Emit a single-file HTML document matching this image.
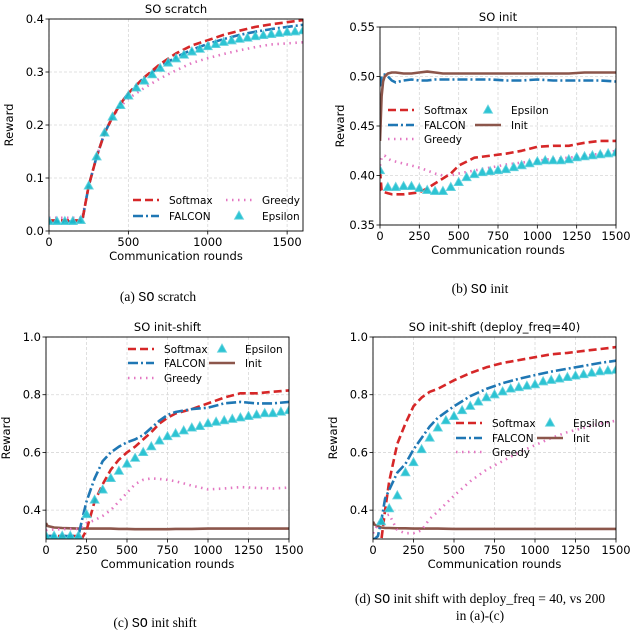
<!DOCTYPE html>
<html><head><meta charset="utf-8"><style>
body{margin:0;background:#fff;width:640px;height:633px;overflow:hidden}
svg{display:block}
text{font-family:"DejaVu Sans","Liberation Sans",sans-serif}
.cap{font-family:"Liberation Serif",serif;font-size:13.5px}
.mono{font-family:"Liberation Mono",monospace}
</style></head><body>
<svg id="fig" width="640" height="633"></svg>
<script>
// ---- Panel (a) data
const aX=[0,50,100,150,200,210,250,300,350,400,450,500,600,700,800,900,1000,1100,1200,1300,1400,1500,1600];
const aSoft=[0.02,0.02,0.02,0.02,0.02,0.02,0.085,0.14,0.185,0.215,0.24,0.26,0.29,0.315,0.335,0.35,0.36,0.37,0.378,0.385,0.39,0.394,0.398];
const aFal=[0.018,0.018,0.018,0.018,0.018,0.02,0.085,0.14,0.185,0.215,0.24,0.26,0.29,0.31,0.328,0.342,0.353,0.362,0.37,0.376,0.381,0.385,0.389];
const aGre=[0.025,0.025,0.025,0.025,0.025,0.025,0.085,0.14,0.185,0.215,0.235,0.25,0.27,0.288,0.303,0.317,0.326,0.334,0.341,0.347,0.352,0.354,0.356];
const aEx=[0,50,100,150,200,250,300,350,400,450,500,550,600,650,700,750,800,850,900,950,1000,1050,1100,1150,1200,1250,1300,1350,1400,1450,1500,1550,1600];
const aEps=[0.018,0.018,0.018,0.018,0.02,0.085,0.14,0.185,0.215,0.237,0.255,0.27,0.283,0.295,0.307,0.317,0.325,0.332,0.338,0.343,0.348,0.352,0.356,0.359,0.362,0.364,0.367,0.369,0.371,0.373,0.375,0.376,0.378];
// ---- Panel (b) data
const bX=[0,10,20,30,50,75,100,150,200,250,300,350,400,450,500,600,700,800,900,1000,1100,1200,1300,1400,1500];
const bInit=[0.435,0.48,0.495,0.5,0.503,0.504,0.504,0.503,0.503,0.504,0.505,0.504,0.503,0.503,0.503,0.503,0.503,0.503,0.503,0.503,0.503,0.503,0.504,0.504,0.504];
const bFal=[0.49,0.5,0.502,0.502,0.5,0.496,0.494,0.496,0.497,0.496,0.496,0.497,0.497,0.497,0.497,0.497,0.497,0.496,0.496,0.497,0.496,0.496,0.496,0.496,0.495];
const bSoft=[0.405,0.385,0.383,0.383,0.382,0.381,0.381,0.381,0.382,0.383,0.387,0.392,0.397,0.402,0.41,0.418,0.42,0.422,0.425,0.429,0.43,0.43,0.433,0.435,0.435];
const bGre=[0.41,0.418,0.42,0.42,0.417,0.415,0.414,0.412,0.41,0.408,0.405,0.402,0.4,0.4,0.402,0.405,0.408,0.411,0.413,0.415,0.417,0.418,0.42,0.422,0.425];
const bEx=[0,50,100,150,200,250,300,350,400,450,500,550,600,650,700,750,800,850,900,950,1000,1050,1100,1150,1200,1250,1300,1350,1400,1450,1500];
const bEps=[0.405,0.388,0.388,0.389,0.389,0.387,0.385,0.384,0.384,0.388,0.393,0.398,0.401,0.403,0.404,0.405,0.406,0.408,0.41,0.412,0.414,0.415,0.415,0.415,0.416,0.418,0.419,0.42,0.421,0.422,0.423];
// ---- Panel (c) data
const cX=[0,10,50,100,150,200,220,250,300,350,400,450,500,550,600,650,700,750,800,900,1000,1100,1200,1300,1400,1500];
const cInit=[0.355,0.345,0.34,0.338,0.337,0.336,0.336,0.336,0.336,0.336,0.336,0.335,0.335,0.334,0.334,0.334,0.334,0.334,0.335,0.335,0.336,0.336,0.336,0.336,0.336,0.336];
const cSoft=[0.31,0.31,0.31,0.31,0.31,0.31,0.3,0.33,0.43,0.49,0.54,0.575,0.6,0.62,0.645,0.67,0.7,0.72,0.735,0.75,0.77,0.79,0.805,0.805,0.81,0.815];
const cFal=[0.31,0.31,0.31,0.31,0.31,0.31,0.36,0.43,0.51,0.57,0.6,0.62,0.635,0.645,0.66,0.685,0.71,0.73,0.74,0.75,0.755,0.77,0.775,0.77,0.77,0.775];
const cGre=[0.33,0.332,0.333,0.334,0.335,0.335,0.34,0.355,0.365,0.38,0.4,0.43,0.46,0.49,0.505,0.51,0.508,0.505,0.5,0.485,0.472,0.475,0.48,0.477,0.475,0.478];
const cEx=[0,50,100,150,200,250,300,350,400,450,500,550,600,650,700,750,800,850,900,950,1000,1050,1100,1150,1200,1250,1300,1350,1400,1450,1500];
const cEps=[0.31,0.31,0.31,0.31,0.31,0.385,0.435,0.47,0.51,0.535,0.56,0.58,0.6,0.62,0.64,0.655,0.665,0.675,0.685,0.69,0.7,0.705,0.71,0.715,0.72,0.725,0.73,0.735,0.735,0.74,0.745];
// ---- Panel (d) data
const dX=[0,10,30,50,75,100,150,200,250,300,350,400,500,600,700,800,900,1000,1100,1200,1300,1400,1500];
const dInit=[0.36,0.35,0.345,0.34,0.338,0.338,0.337,0.337,0.336,0.336,0.336,0.336,0.335,0.335,0.335,0.335,0.335,0.335,0.335,0.335,0.335,0.335,0.335];
const dSoft=[0.29,0.29,0.29,0.29,0.4,0.5,0.63,0.7,0.76,0.79,0.81,0.82,0.85,0.875,0.895,0.91,0.92,0.93,0.94,0.945,0.952,0.958,0.965];
const dFal=[0.3,0.3,0.31,0.36,0.44,0.47,0.53,0.56,0.61,0.65,0.69,0.72,0.76,0.795,0.82,0.84,0.855,0.868,0.88,0.89,0.9,0.91,0.918];
const dGre=[0.32,0.33,0.35,0.37,0.38,0.385,0.33,0.32,0.32,0.33,0.37,0.395,0.45,0.5,0.54,0.57,0.6,0.625,0.65,0.67,0.685,0.7,0.71];
const dEx=[50,100,150,200,250,300,350,400,450,500,550,600,650,700,750,800,850,900,950,1000,1050,1100,1150,1200,1250,1300,1350,1400,1450,1500];
const dEps=[0.36,0.405,0.45,0.53,0.565,0.61,0.65,0.685,0.71,0.725,0.745,0.76,0.775,0.79,0.8,0.81,0.82,0.825,0.83,0.835,0.845,0.85,0.855,0.86,0.865,0.87,0.875,0.88,0.883,0.885];
// tick labels
const aXT=[0,500,1000,1500], aYT=[0,0.1,0.2,0.3,0.4];
const bXT=[0,250,500,750,1000,1250,1500], bYT=[0.35,0.4,0.45,0.5,0.55];
const cXT=[0,250,500,750,1000,1250,1500], cYT=[0.4,0.6,0.8,1.0];

const NS='http://www.w3.org/2000/svg';
const svg=document.getElementById('fig');
const C={soft:'#d62728',fal:'#1f77b4',gre:'#e377c2',eps:'#17becf',init:'#8c564b'};
function el(tag,attrs,parent){const e=document.createElementNS(NS,tag);for(const k in attrs)e.setAttribute(k,attrs[k]);(parent||svg).appendChild(e);return e;}
function tri(x,y,g){return el('path',{d:`M${x},${y-5}L${x+4.6},${y+3.2}L${x-4.6},${y+3.2}Z`,fill:C.eps,stroke:'#5ccfdc','stroke-width':0.8,opacity:0.9},g);}
const styles={soft:{w:2.6,d:'8,4'},fal:{w:2.6,d:'10,3,2,3'},gre:{w:2.6,d:'1.5,4.5'},init:{w:2.6,d:''}};
function panel(p){
  const g=el('g',{});
  
  
  const sx=v=>p.x0+(v-p.xmin)/(p.xmax-p.xmin)*(p.x1-p.x0);
  const sy=v=>p.y1-(v-p.ymin)/(p.ymax-p.ymin)*(p.y1-p.y0);
  const clipId='clip'+p.name;
  const cp=el('clipPath',{id:clipId},g);el('rect',{x:p.x0,y:p.y0,width:p.x1-p.x0,height:p.y1-p.y0},cp);
  p.xt.forEach(t=>{const x=sx(t);
    const gl=el('line',{x1:x,x2:x,y1:p.y0,y2:p.y1,stroke:'#d8d8d8','stroke-dasharray':'3,2','stroke-width':0.8},g);
    
    el('line',{x1:x,x2:x,y1:p.y1,y2:p.y1+3.5,stroke:'#000','stroke-width':0.8},g);
    const tx=el('text',{x:x,y:p.y1+15,'font-size':11.5,'text-anchor':'middle'},g);tx.textContent=t;
    });
  p.yt.forEach(t=>{const y=sy(t);
    const gl=el('line',{x1:p.x0,x2:p.x1,y1:y,y2:y,stroke:'#d8d8d8','stroke-dasharray':'3,2','stroke-width':0.8},g);
    
    el('line',{x1:p.x0-3.5,x2:p.x0,y1:y,y2:y,stroke:'#000','stroke-width':0.8},g);
    const tx=el('text',{x:p.x0-5,y:y+4,'font-size':11.5,'text-anchor':'end'},g);tx.textContent=t.toFixed(p.yd);
    });
  const dg=el('g',{'clip-path':`url(#${clipId})`},g);
  p.series.forEach(s=>{
    const st=styles[s.k];
    const pts=s.xs.map((x,i)=>sx(x).toFixed(1)+','+sy(s.ys[i]).toFixed(1)).join(' ');
    const pl=el('polyline',{points:pts,fill:'none',stroke:C[s.k],'stroke-width':st.w,'stroke-dasharray':st.d,'stroke-linejoin':'round'},dg);
    
  });
  p.eps.ys.forEach((v,i)=>{const m=tri(sx(p.eps.xs[i]),sy(v),dg);
    });
  const fr=el('rect',{x:p.x0,y:p.y0,width:p.x1-p.x0,height:p.y1-p.y0,fill:'none',stroke:'#000','stroke-width':0.9},g);
  
  const ti=el('text',{x:(p.x0+p.x1)/2,y:p.y0-6,'font-size':11.5,'text-anchor':'middle'},g);ti.textContent=p.title;
  
  const xl=el('text',{x:(p.x0+p.x1)/2,y:p.y1+29,'font-size':11.5,'text-anchor':'middle'},g);xl.textContent='Communication rounds';
  
  const yx=p.x0-36,yy=(p.y0+p.y1)/2;
  const yl=el('text',{x:yx,y:yy,'font-size':11.5,'text-anchor':'middle',transform:`rotate(-90 ${yx} ${yy})`},g);yl.textContent='Reward';
  
  p.leg.forEach(L=>{
    const lg=el('g',{},g);
    
    if(L.k==='eps'){tri(L.x+13,L.y,lg);}
    else{const st=styles[L.k];el('line',{x1:L.x,x2:L.x+26,y1:L.y,y2:L.y,stroke:C[L.k],'stroke-width':st.w,'stroke-dasharray':st.d},lg);}
    const t=el('text',{x:L.x+36,y:L.y+4,'font-size':10.5},lg);t.textContent=L.t;
  });
  p.caps.forEach(c=>{const t=el('text',{x:c.x,y:c.y,'text-anchor':'middle',class:'cap'});
    
    const a=el('tspan',{},t);a.textContent=c.a;
    if(c.m){const m=el('tspan',{class:'mono'},t);m.textContent='SO';}
    const b=el('tspan',{},t);b.textContent=c.b;});
}
panel({name:'panel-a',title:'SO scratch',x0:49,x1:303,y0:19,y1:231,xmin:0,xmax:1600,ymin:0,ymax:0.4,yd:1,xt:aXT,yt:aYT,
 series:[{k:'gre',xs:aX,ys:aGre},{k:'fal',xs:aX,ys:aFal},{k:'soft',xs:aX,ys:aSoft}],eps:{xs:aEx,ys:aEps},
 leg:[{k:'soft',t:'Softmax',x:133,y:200},{k:'fal',t:'FALCON',x:133,y:216},{k:'gre',t:'Greedy',x:226,y:200},{k:'eps',t:'Epsilon',x:226,y:216}],
 caps:[{x:158,y:301,a:'(a) ',m:1,b:' scratch'}]});
panel({name:'panel-b',title:'SO init',x0:380,x1:616,y0:27,y1:225,xmin:0,xmax:1500,ymin:0.35,ymax:0.55,yd:2,xt:bXT,yt:bYT,
 series:[{k:'gre',xs:bX,ys:bGre},{k:'soft',xs:bX,ys:bSoft},{k:'fal',xs:bX,ys:bFal},{k:'init',xs:bX,ys:bInit}],eps:{xs:bEx,ys:bEps},
 leg:[{k:'soft',t:'Softmax',x:388,y:110},{k:'fal',t:'FALCON',x:388,y:125},{k:'gre',t:'Greedy',x:388,y:139},{k:'eps',t:'Epsilon',x:475,y:110},{k:'init',t:'Init',x:475,y:125}],
 caps:[{x:480,y:293,a:'(b) ',m:1,b:' init'}]});
panel({name:'panel-c',title:'SO init-shift',x0:46,x1:289,y0:337,y1:539,xmin:0,xmax:1500,ymin:0.3,ymax:1.0,yd:1,xt:cXT,yt:cYT,
 series:[{k:'init',xs:cX,ys:cInit},{k:'gre',xs:cX,ys:cGre},{k:'soft',xs:cX,ys:cSoft},{k:'fal',xs:cX,ys:cFal}],eps:{xs:cEx,ys:cEps},
 leg:[{k:'soft',t:'Softmax',x:128,y:349},{k:'fal',t:'FALCON',x:128,y:363},{k:'gre',t:'Greedy',x:128,y:378},{k:'eps',t:'Epsilon',x:209,y:349},{k:'init',t:'Init',x:209,y:363}],
 caps:[{x:155,y:627,a:'(c) ',m:1,b:' init shift'}]});
panel({name:'panel-d',title:'SO init-shift (deploy_freq=40)',x0:373,x1:616,y0:337,y1:539,xmin:0,xmax:1500,ymin:0.3,ymax:1.0,yd:1,xt:cXT,yt:cYT,
 series:[{k:'init',xs:dX,ys:dInit},{k:'gre',xs:dX,ys:dGre},{k:'soft',xs:dX,ys:dSoft},{k:'fal',xs:dX,ys:dFal}],eps:{xs:dEx,ys:dEps},
 leg:[{k:'soft',t:'Softmax',x:456,y:423},{k:'fal',t:'FALCON',x:456,y:438},{k:'gre',t:'Greedy',x:456,y:452},{k:'eps',t:'Epsilon',x:537,y:423},{k:'init',t:'Init',x:537,y:438}],
 caps:[{x:480,y:603,a:'(d) ',m:1,b:' init shift with deploy_freq = 40, vs 200'},{x:480,y:620,a:'in (a)-(c)',m:0,b:''}]});
</script>
</body></html>
